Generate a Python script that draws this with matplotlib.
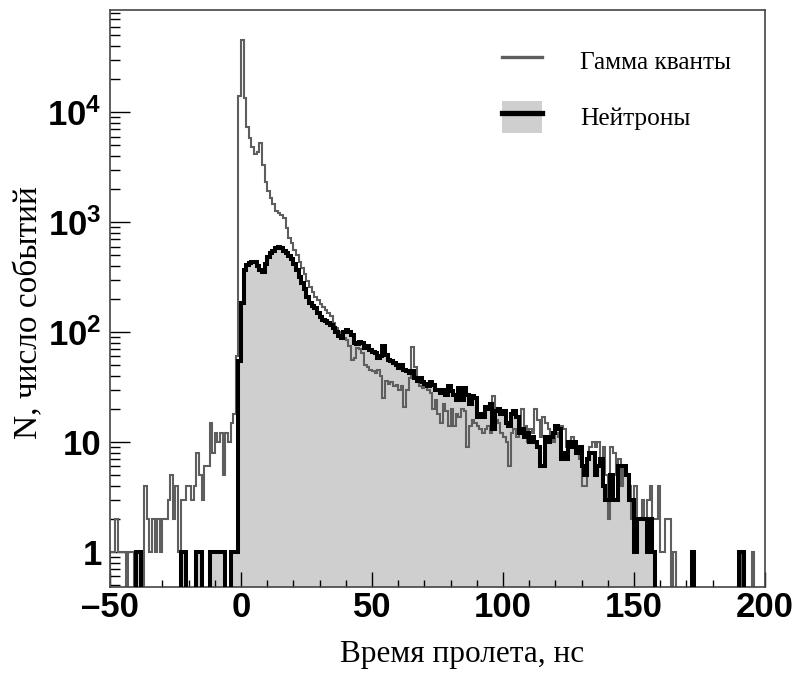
import matplotlib
matplotlib.use("Agg")
import matplotlib.pyplot as plt
import numpy as np
from matplotlib.lines import Line2D
from matplotlib.patches import Patch

# time-of-flight histogram, 1 ns bins from -50 to 200 ns
T_MIN, T_MAX, BIN_NS = -50, 200, 1

# counts per bin, gamma quanta (rows of 10 bins, first bin of row in comment)
gamma_counts = [
    1, 1, 2, 1, 1, 1, 0, 1, 1, 0,                          # -50
    1, 1, 0, 4, 2, 1, 2, 1, 2, 1,                          # -40
    2, 2, 3, 5, 2, 4, 1, 3, 3, 4,                          # -30
    4, 3, 4, 8, 5, 3, 6, 6, 15, 8,                         # -20
    12, 10, 12, 5, 12, 10, 15, 18, 60, 14000,              # -10
    45000, 13500, 7300, 5800, 4800, 4200, 4300, 5300, 3300, 2300,  # 0
    1900, 1650, 1450, 1250, 1200, 1150, 1100, 880, 720, 640,       # 10
    560, 500, 430, 380, 340, 290, 255, 230, 210, 195,      # 20
    180, 170, 160, 150, 140, 120, 110, 100, 95, 88,        # 30
    85, 75, 56, 58, 72, 70, 65, 50, 48, 45,                # 40
    44, 42, 45, 40, 25, 36, 34, 35, 32, 33,                # 50
    30, 32, 21, 30, 38, 73, 48, 35, 32, 31,                # 60
    32, 30, 28, 20, 24, 18, 15, 22, 19, 14,                # 70
    20, 14, 18, 17, 20, 19, 9, 14, 16, 15,                 # 80
    14, 13, 12, 13, 14, 12, 26, 16, 15, 12,                # 90
    11, 10, 6, 12, 13, 11, 12, 20, 14, 10,                 # 100
    13, 12, 20, 16, 11, 17, 15, 13, 11, 10,                # 110
    12, 11, 14, 13, 9, 10, 11, 9, 8, 7,                    # 120
    4, 4, 7, 9, 10, 9, 10, 7, 9, 5,                        # 130
    2, 9, 8, 5, 7, 4, 6, 5, 4, 2,                          # 140
    4, 2, 2, 3, 2, 3, 4, 2, 2, 4,                          # 150
    1, 1, 2, 2, 0, 1, 0, 0, 0, 0,                          # 160
    0, 0, 0, 0, 0, 0, 0, 0, 0, 0,                          # 170
    0, 0, 0, 0, 0, 0, 0, 0, 0, 0,                          # 180
    0, 1, 0, 0, 0, 1, 0, 0, 0, 0,                          # 190
]

# counts per bin, neutrons
neutron_counts = [
    0, 0, 0, 0, 0, 0, 0, 0, 0, 0,                          # -50
    1, 1, 0, 0, 0, 0, 0, 0, 0, 0,                          # -40
    0, 0, 0, 0, 0, 0, 0, 1, 1, 0,                          # -30
    0, 0, 0, 1, 1, 0, 0, 0, 1, 1,                          # -20
    1, 1, 1, 1, 0, 0, 1, 1, 1, 55,                         # -10
    184, 365, 405, 425, 430, 430, 400, 370, 350, 420,      # 0
    480, 520, 550, 580, 590, 580, 550, 520, 490, 460,      # 10
    420, 370, 320, 280, 245, 210, 185, 172, 165, 150,      # 20
    138, 130, 125, 120, 115, 108, 100, 92, 88, 100,        # 30
    104, 100, 95, 80, 78, 82, 80, 72, 75, 68,              # 40
    66, 64, 58, 60, 75, 62, 56, 55, 52, 50,                # 50
    47, 50, 45, 44, 42, 44, 38, 36, 38, 35,                # 60
    34, 32, 35, 33, 30, 30, 28, 30, 27, 32,                # 70
    29, 27, 24, 31, 24, 31, 27, 22, 26, 25,                # 80
    17, 18, 17, 21, 20, 22, 13, 19, 20, 18,                # 90
    19, 15, 14, 18, 19, 17, 12, 13, 11, 12,                # 100
    10, 11, 10, 9, 6, 6, 11, 10, 11, 12,                   # 110
    14, 13, 7, 8, 7, 10, 9, 10, 8, 9,                      # 120
    6, 5, 7, 8, 8, 5, 6, 7, 4, 3,                          # 130
    3, 5, 3, 3, 6, 6, 6, 5, 3, 3,                          # 140
    1, 2, 2, 2, 2, 1, 2, 1, 0, 0,                          # 150
    0, 0, 0, 0, 0, 0, 0, 0, 0, 0,                          # 160
    0, 0, 1, 0, 0, 0, 0, 0, 0, 0,                          # 170
    0, 0, 0, 0, 0, 0, 0, 0, 0, 0,                          # 180
    1, 1, 0, 0, 0, 0, 0, 0, 0, 0,                          # 190
]

x_ticks = [-50, 0, 50, 100, 150, 200]
x_tick_labels = ["\u201350", "0", "50", "100", "150", "200"]
y_ticks = [1, 10, 100, 1000, 10000]
y_tick_labels = ["1", "10", r"$10^{2}$", r"$10^{3}$", r"$10^{4}$"]

legend_labels = ["Гамма кванты", "Нейтроны"]
x_label = "Время пролета, нс"
y_label = "N, число событий"

GAMMA_COLOR = "#5e5e5e"
NEUTRON_FILL = "#cfcfcf"
TICK_FONT = "Liberation Sans"
TEXT_FONT = "Liberation Serif"

plt.rcParams["mathtext.fontset"] = "custom"
plt.rcParams["mathtext.rm"] = TICK_FONT + ":bold"
plt.rcParams["mathtext.bf"] = TICK_FONT + ":bold"
plt.rcParams["mathtext.it"] = TICK_FONT + ":bold"


def main():
    edges = np.arange(T_MIN, T_MAX + BIN_NS, BIN_NS)
    floor = 0.1  # empty bins drop below the visible range on the log axis
    g = np.array(gamma_counts, dtype=float)
    n = np.array(neutron_counts, dtype=float)
    g = np.where(g > 0, g, floor)
    n = np.where(n > 0, n, floor)

    fig = plt.figure(figsize=(7.97, 6.82), dpi=100)
    ax = fig.add_axes([0.138, 0.1393, 0.8218, 0.846])

    ax.stairs(n, edges, baseline=floor, fill=True, color=NEUTRON_FILL, lw=0, zorder=1)
    ax.stairs(g, edges, baseline=floor, color=GAMMA_COLOR, lw=1.5, zorder=2)
    ax.stairs(n, edges, baseline=floor, color="black", lw=2.9, zorder=3)

    ax.set_yscale("log")
    ax.set_xlim(T_MIN, T_MAX)
    ax.set_ylim(0.48, 85000)

    ax.set_xticks(x_ticks)
    ax.set_xticklabels(x_tick_labels)
    ax.set_xticks([t for t in range(T_MIN, T_MAX + 1, 10) if t not in x_ticks], minor=True)
    ax.set_yticks(y_ticks)
    ax.set_yticklabels(y_tick_labels)
    minor_y = [s * 10.0 ** e for e in range(-1, 5) for s in range(2, 10)]
    ax.set_yticks([v for v in minor_y if 0.48 < v < 85000], minor=True)
    ax.yaxis.set_minor_formatter(plt.NullFormatter())

    for lab in ax.get_xticklabels() + ax.get_yticklabels():
        lab.set_family(TICK_FONT)
        lab.set_weight("bold")
        lab.set_fontsize(25)

    ax.tick_params(axis="x", which="major", direction="in", length=10.5, width=1.0, pad=3)
    ax.tick_params(axis="x", which="minor", direction="in", length=5, width=1.0)
    ax.tick_params(axis="y", which="major", direction="in", length=14.5, width=1.0, pad=6)
    ax.tick_params(axis="y", which="minor", direction="in", length=7.2, width=1.0)

    for sp in ax.spines.values():
        sp.set_linewidth(1.2)
        sp.set_color("#444444")

    handles = [
        Line2D([], [], color=GAMMA_COLOR, lw=2.4),
        (Patch(facecolor=NEUTRON_FILL, edgecolor="none"), Line2D([], [], color="black", lw=3.8)),
    ]
    ax.legend(handles, legend_labels, loc="upper left", bbox_to_anchor=(0.598, 0.939),
              frameon=False, borderpad=0, borderaxespad=0, handlelength=1.6,
              handleheight=1.54, handletextpad=1.5, labelspacing=0.95,
              prop={"family": TEXT_FONT, "size": 18.3})

    fig.text(0.58, 0.04, x_label, ha="center", va="center", family=TEXT_FONT, fontsize=22.5)
    fig.text(0.036, 0.542, y_label, ha="center", va="center", rotation=90,
             family=TEXT_FONT, fontsize=24)

    fig.savefig("out.png", dpi=100)
    plt.close(fig)


if __name__ == "__main__":
    main()
